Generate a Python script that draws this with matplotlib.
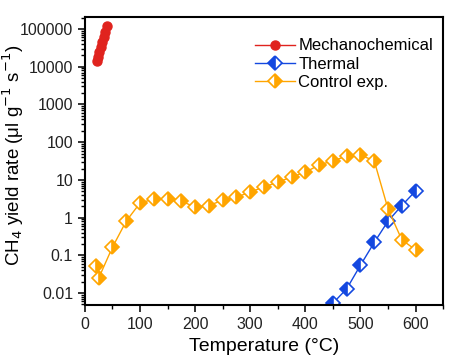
import numpy as np
import matplotlib
matplotlib.use('Agg')
import matplotlib.pyplot as plt
from matplotlib.ticker import LogLocator, FixedLocator, NullFormatter, MultipleLocator

plt.rcParams['font.family'] = ['Liberation Sans', 'DejaVu Sans']

# Mechanochemical
mech_t = [22, 24, 26, 29, 31, 34, 37, 40]
mech_y = [14000, 18000, 25000, 33000, 45000, 60000, 85000, 120000]

# Thermal
therm_t = [450, 475, 500, 525, 550, 575, 600]
therm_y = [0.0054, 0.013, 0.055, 0.22, 0.81, 2.1, 5.1]

# Control exp.
ctrl_t = [20, 25, 50, 75, 100, 125, 150, 175, 200, 225, 250, 275, 300, 325,
          350, 375, 400, 425, 450, 475, 500, 525, 550, 575, 600]
ctrl_y = [0.052, 0.025, 0.165, 0.81, 2.45, 3.1, 3.1, 2.75, 1.9, 2.1, 2.9, 3.5,
          4.8, 6.5, 8.7, 12, 16, 25, 32, 43, 46, 32, 1.7, 0.26, 0.14]

yticks = [0.01, 0.1, 1, 10, 100, 1000, 10000, 100000]
ytick_labels = ['0.01', '0.1', '1', '10', '100', '1000', '10000', '100000']

red = '#E0231E'
blue = '#1448E0'
orange = '#FFA500'


def main():
    fig = plt.figure(figsize=(4.77, 3.59), dpi=100)
    ax = fig.add_axes([0.178, 0.150, 0.751, 0.803])

    ax.plot(mech_t, mech_y, '-o', color=red, mfc=red, mec=red, ms=6.5, lw=1,
            label='Mechanochemical')
    ax.plot(therm_t, therm_y, '-D', color=blue, mfc=blue, mec=blue,
            mfcalt='white', fillstyle='left', ms=7.5, lw=1, mew=1.2,
            label='Thermal')
    ax.plot(ctrl_t, ctrl_y, '-D', color=orange, mfc=orange, mec=orange,
            mfcalt='white', fillstyle='right', ms=7.5, lw=1, mew=1.2,
            label='Control exp.')

    ax.set_yscale('log')
    ax.set_xlim(0, 650)
    ax.set_ylim(0.0048, 2.1e5)
    ax.yaxis.set_major_locator(FixedLocator(yticks))
    ax.set_yticklabels(ytick_labels)
    ax.yaxis.set_minor_locator(LogLocator(base=10, subs=np.arange(2, 10)))
    ax.yaxis.set_minor_formatter(NullFormatter())
    ax.xaxis.set_major_locator(MultipleLocator(100))
    ax.xaxis.set_minor_locator(MultipleLocator(50))

    for s in ax.spines.values():
        s.set_linewidth(1.5)
    ax.tick_params(which='major', direction='out', length=5, width=1.3,
                   labelsize=11.5, colors='#222222')
    ax.tick_params(which='minor', direction='out', length=3, width=1)
    ax.tick_params(top=False, right=False)

    ax.set_xlabel('Temperature (°C)', fontsize=14, labelpad=4)
    ax.set_ylabel('CH$_4$ yield rate (μl g$^{-1}$ s$^{-1}$)', fontsize=13.5)
    ax.yaxis.set_label_coords(-0.165, 0.52)

    ax.legend(loc='upper left', bbox_to_anchor=(0.475, 0.925), frameon=False,
              fontsize=12, handlelength=2.4, handletextpad=0.2,
              labelspacing=0.2, borderaxespad=0, borderpad=0)

    fig.savefig('out.png', dpi=100)


if __name__ == '__main__':
    main()
